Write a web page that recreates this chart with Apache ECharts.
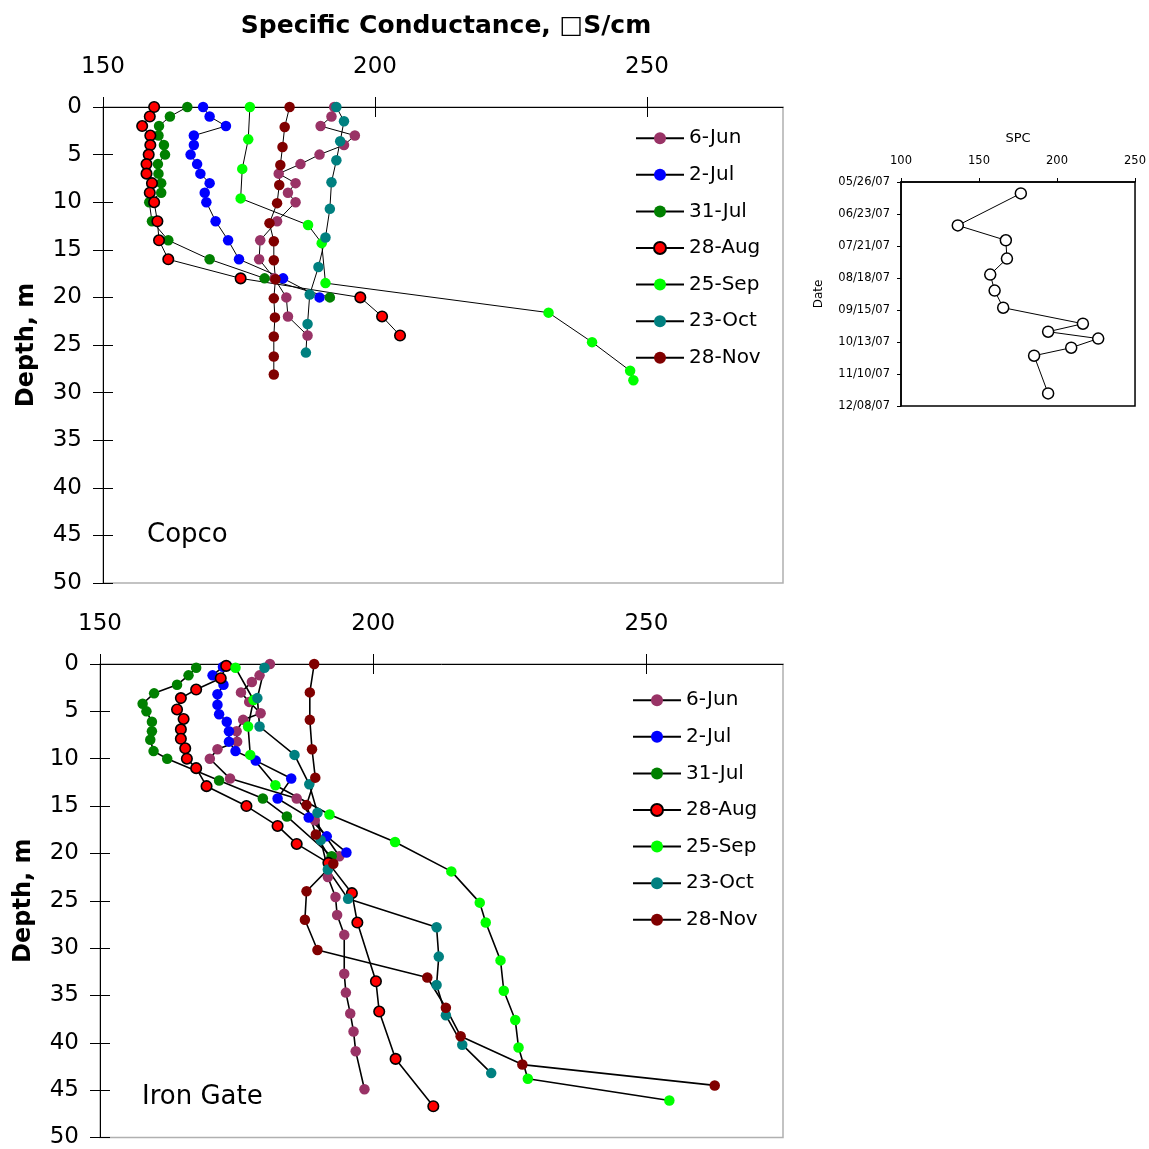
<!DOCTYPE html>
<html><head><meta charset="utf-8">
<script src="https://cdn.jsdelivr.net/npm/echarts@6/dist/echarts.min.js"></script>
<style>html,body{margin:0;padding:0;background:#fff}#c{width:1149px;height:1149px}</style>
</head><body><div id="c"></div>
<script>
// ---------- DATA ----------
const seriesNames = ['6-Jun', '2-Jul', '31-Jul', '28-Aug', '25-Sep', '23-Oct', '28-Nov'];
const spcTicks = [150, 200, 250];
const insetSpcTicks = [100, 150, 200, 250];

// Copco: [specific conductance, depth m]
const copco_6Jun = [[192.5,0],[192.0,1],[190.0,2],[196.3,3],[194.3,4],[189.8,5],[186.3,6],[182.3,7],[185.4,8],[184.0,9],[185.4,10],[182.0,12],[178.9,14],[178.7,16],[181.5,18],[183.7,20],[184.0,22],[187.6,24]];
const copco_2Jul = [[168.4,0],[169.6,1],[172.6,2],[166.7,3],[166.7,4],[166.1,5],[167.3,6],[167.9,7],[169.6,8],[168.7,9],[169.0,10],[170.7,12],[173.0,14],[175.0,16],[183.1,18],[189.8,20]];
const copco_31Jul = [[165.5,0],[162.3,1],[160.3,2],[160.2,3],[161.2,4],[161.4,5],[160.1,6],[160.2,7],[160.7,8],[160.7,9],[158.5,10],[159.0,12],[162.0,14],[169.6,16],[179.7,18],[191.7,20]];
const copco_28Aug = [[159.4,0],[158.6,1],[157.2,2],[158.7,3],[158.7,4],[158.4,5],[158.0,6],[158.0,7],[159.0,8],[158.6,9],[159.4,10],[160.0,12],[160.3,14],[162.0,16],[175.3,18],[197.3,20],[201.3,22],[204.6,24]];
const copco_25Sep = [[177.0,0],[176.7,3.4],[175.6,6.5],[175.3,9.6],[187.7,12.4],[190.2,14.3],[190.9,18.5],[231.9,21.6],[239.9,24.7],[246.9,27.7],[247.5,28.7]];
const copco_23Oct = [[192.9,0],[194.3,1.5],[193.6,3.6],[192.9,5.6],[192.0,7.9],[191.7,10.7],[190.9,13.7],[189.6,16.8],[188.0,19.7],[187.6,22.8],[187.3,25.8]];
const copco_28Nov = [[184.3,0],[183.4,2.1],[183.0,4.2],[182.6,6.1],[182.4,8.2],[182.0,10.1],[180.6,12.2],[181.4,14.1],[181.4,16.1],[181.7,18.1],[181.4,20.1],[181.6,22.1],[181.4,24.1],[181.4,26.2],[181.4,28.1]];

// Iron Gate: [specific conductance, depth m]
const iron_6Jun = [[181.1,0],[179.2,1.2],[177.8,1.9],[175.8,3.0],[177.3,4.0],[179.4,5.2],[176.2,5.9],[175.0,7.1],[175.1,8.2],[171.5,9.0],[170.1,10.0],[173.8,12.1],[186.0,14.2],[189.3,16.5],[193.8,20.3],[191.7,22.5],[193.1,24.6],[193.4,26.5],[194.7,28.6],[194.7,32.7],[195.0,34.7],[195.8,36.9],[196.4,38.8],[196.8,40.9],[198.4,44.9]];
const iron_2Jul = [[172.5,0.3],[170.6,1.2],[172.6,2.2],[171.5,3.2],[171.5,4.3],[171.8,5.3],[173.2,6.1],[173.6,7.1],[173.6,8.2],[174.8,9.2],[178.5,10.2],[185.0,12.1],[182.5,14.2],[188.2,16.2],[191.5,18.2],[195.1,19.9]];
const iron_31Jul = [[167.6,0.4],[166.2,1.2],[164.1,2.2],[159.9,3.1],[157.8,4.2],[158.5,5.0],[159.5,6.1],[159.5,7.1],[159.2,8.0],[159.8,9.2],[162.3,10.0],[171.8,12.3],[179.8,14.2],[184.2,16.1],[192.4,20.3]];
const iron_28Aug = [[173.1,0.2],[172.1,1.5],[167.6,2.7],[164.8,3.6],[164.1,4.8],[165.3,5.8],[164.8,6.9],[164.8,7.9],[165.6,8.9],[165.9,10.0],[167.6,11.0],[169.5,12.9],[176.8,15.0],[182.5,17.1],[186.0,19.0],[191.8,21.0],[196.1,24.2],[197.1,27.3],[200.5,33.5],[201.1,36.7],[204.1,41.7],[211.0,46.7]];
const iron_25Sep = [[174.8,0.4],[178.1,3.8],[177.1,6.6],[177.5,9.6],[182.1,12.8],[192.0,15.9],[204.0,18.8],[214.3,21.9],[219.5,25.2],[220.6,27.3],[223.3,31.3],[223.9,34.5],[226.0,37.6],[226.6,40.5],[228.3,43.8],[254.2,46.1]];
const iron_23Oct = [[180.1,0.4],[178.8,3.6],[179.2,6.6],[185.6,9.6],[188.3,12.7],[189.8,15.7],[190.4,18.6],[191.7,21.7],[195.4,24.8],[211.6,27.8],[212.0,30.9],[211.6,33.9],[213.3,37.1],[216.3,40.2],[221.6,43.2]];
const iron_28Nov = [[189.2,0],[188.4,3.0],[188.4,5.9],[188.8,9.0],[189.4,12.0],[187.8,14.9],[189.5,18.0],[192.7,21.1],[187.8,24.0],[187.5,27.0],[189.8,30.2],[209.9,33.1],[213.3,36.3],[216.0,39.3],[227.3,42.3],[262.5,44.5]];

// Inset: SPC by date
const insetDates = ['2007-06-05','2007-07-03','2007-07-16','2007-08-01','2007-08-15','2007-08-29','2007-09-13','2007-09-27','2007-10-04','2007-10-10','2007-10-18','2007-10-25','2007-11-27'];
const insetSpc = [176.8, 136.4, 167.2, 167.9, 157.2, 160.0, 165.5, 216.6, 194.3, 226.4, 209.1, 185.3, 194.3];
const insetStart = '2007-05-26';
const insetEnd = '2007-12-08';

// ---------- CHART ----------
const colors = ['#993366', '#0000FF', '#008000', '#FF0000', '#00FF00', '#008080', '#800000'];
const FONT = '"DejaVu Sans", sans-serif';
const copcoData = [copco_6Jun, copco_2Jul, copco_31Jul, copco_28Aug, copco_25Sep, copco_23Oct, copco_28Nov];
const ironData = [iron_6Jun, iron_2Jul, iron_31Jul, iron_28Aug, iron_25Sep, iron_23Oct, iron_28Nov];

const DAY = 86400000;
const base = Date.parse(insetStart + 'T00:00:00Z');
const dayOf = s => Math.round((Date.parse(s + 'T00:00:00Z') - base) / DAY);
const insetSpan = dayOf(insetEnd);
const pad2 = n => (n < 10 ? '0' : '') + n;
function dayLabel(v) {
  const d = new Date(base + v * DAY);
  return pad2(d.getUTCMonth() + 1) + '/' + pad2(d.getUTCDate()) + '/' + pad2(d.getUTCFullYear() % 100);
}
const insetData = insetDates.map((s, i) => [insetSpc[i], dayOf(s)]);

function mkSeries(name, data, idx, gi, lw) {
  const s = {
    type: 'line', name: name, data: data,
    xAxisIndex: gi * 2, yAxisIndex: gi * 2,
    symbol: 'circle', symbolSize: 10.5, showAllSymbol: true,
    itemStyle: { color: colors[idx], borderWidth: 0, opacity: 1 },
    lineStyle: { color: '#000', width: lw },
    emphasis: { disabled: true },
    animation: false
  };
  if (name === '28-Aug') { s.itemStyle.borderColor = '#000'; s.itemStyle.borderWidth = 1.6; }
  return s;
}

const xAxes = [], yAxes = [];
function mainAxes(gi) {
  const lineBlack = { color: '#000', width: 1 };
  xAxes.push({
    gridIndex: gi, type: 'value', position: 'top', min: 150, max: 275, interval: 50,
    axisLine: { show: true, onZero: false, lineStyle: lineBlack },
    axisTick: { show: true, inside: false, length: 10, customValues: spcTicks, lineStyle: lineBlack },
    axisLabel: { show: true, customValues: spcTicks, fontSize: 23, fontFamily: FONT, color: '#000', margin: 28 },
    splitLine: { show: false }
  });
  xAxes.push({
    gridIndex: gi, type: 'value', position: 'top', min: 150, max: 275, interval: 50,
    axisLine: { show: false, onZero: false },
    axisTick: { show: true, inside: true, length: 10, customValues: spcTicks, lineStyle: lineBlack },
    axisLabel: { show: false }, splitLine: { show: false }
  });
  yAxes.push({
    gridIndex: gi, type: 'value', position: 'left', inverse: true, min: 0, max: 50, interval: 5,
    axisLine: { show: true, onZero: false, lineStyle: lineBlack },
    axisTick: { show: true, inside: false, length: 10, lineStyle: lineBlack },
    axisLabel: { show: true, fontSize: 23, fontFamily: FONT, color: '#000', margin: 21 },
    splitLine: { show: false },
    name: 'Depth, m', nameLocation: 'middle', nameGap: 64,
    nameTextStyle: { fontSize: 24, fontWeight: 'bold', fontFamily: FONT, color: '#000' }
  });
  yAxes.push({
    gridIndex: gi, type: 'value', position: 'left', inverse: true, min: 0, max: 50, interval: 5,
    axisLine: { show: false, onZero: false },
    axisTick: { show: true, inside: true, length: 10, lineStyle: lineBlack },
    axisLabel: { show: false }, splitLine: { show: false }
  });
}
mainAxes(0);
mainAxes(1);
// inset axes
xAxes.push({
  gridIndex: 2, type: 'value', position: 'top', min: 100, max: 250, interval: 50,
  axisLine: { show: true, onZero: false, lineStyle: { color: '#000', width: 1.5 } },
  axisTick: { show: true, inside: false, length: 4, customValues: insetSpcTicks, lineStyle: { color: '#000' } },
  axisLabel: { fontSize: 11.5, fontFamily: FONT, color: '#000', margin: 15 },
  splitLine: { show: false },
  name: 'SPC', nameLocation: 'middle', nameGap: 37,
  nameTextStyle: { fontSize: 13, fontFamily: FONT, color: '#000' }
});
yAxes.push({
  gridIndex: 2, type: 'value', position: 'left', inverse: true, min: 0, max: insetSpan, interval: 28,
  axisLine: { show: true, onZero: false, lineStyle: { color: '#000', width: 1.5 } },
  axisTick: { show: true, inside: false, length: 4, lineStyle: { color: '#000' } },
  axisLabel: { fontSize: 11.5, fontFamily: FONT, color: '#000', margin: 11, formatter: v => dayLabel(v) },
  splitLine: { show: false },
  name: 'Date', nameLocation: 'middle', nameGap: 76,
  nameTextStyle: { fontSize: 12, fontFamily: FONT, color: '#000' }
});

const series = [];
seriesNames.forEach((n, i) => series.push(mkSeries(n, copcoData[i], i, 0, 1)));
seriesNames.forEach((n, i) => series.push(mkSeries(n, ironData[i], i, 1, 1.6)));
series.push({
  type: 'line', name: 'SPC', data: insetData, xAxisIndex: 4, yAxisIndex: 4,
  symbol: 'circle', symbolSize: 11, showAllSymbol: true,
  itemStyle: { color: '#fff', borderColor: '#000', borderWidth: 1.5 },
  lineStyle: { color: '#000', width: 1 },
  emphasis: { disabled: true }, animation: false
});

const legendCommon = {
  orient: 'vertical', itemWidth: 48, itemHeight: 15, itemGap: 16.6,
  textStyle: { fontSize: 20, fontFamily: FONT, color: '#000' },
  data: seriesNames, selectedMode: false
};

const option = {
  animation: false,
  backgroundColor: '#fff',
  grid: [
    { left: 103, top: 107, width: 680, height: 476, show: true, borderColor: '#b0b0b0', borderWidth: 1.5, backgroundColor: 'transparent' },
    { left: 100, top: 664, width: 683, height: 475, show: true, borderColor: '#b0b0b0', borderWidth: 1.5, backgroundColor: 'transparent' },
    { left: 901, top: 182, width: 235, height: 224, show: true, borderColor: '#000', borderWidth: 1.5, backgroundColor: 'transparent' }
  ],
  xAxis: xAxes,
  yAxis: yAxes,
  legend: [
    Object.assign({}, legendCommon, { left: 630, top: 123.2 }),
    Object.assign({}, legendCommon, { left: 627, top: 685.2 })
  ],
  graphic: [
    { type: 'text', x: 446, y: 26, style: { text: 'Specific Conductance, \u25A1S/cm', font: 'bold 25px "DejaVu Sans"', fill: '#000', align: 'center', verticalAlign: 'middle' } },
    { type: 'text', x: 147, y: 535, style: { text: 'Copco', font: '26px "DejaVu Sans"', fill: '#000', align: 'left', verticalAlign: 'middle' } },
    { type: 'text', x: 142, y: 1097, style: { text: 'Iron Gate', font: '26px "DejaVu Sans"', fill: '#000', align: 'left', verticalAlign: 'middle' } }
  ],
  series: series
};

const chart = echarts.init(document.getElementById('c'), null, { renderer: 'canvas' });
chart.setOption(option);
</script>
</body></html>
